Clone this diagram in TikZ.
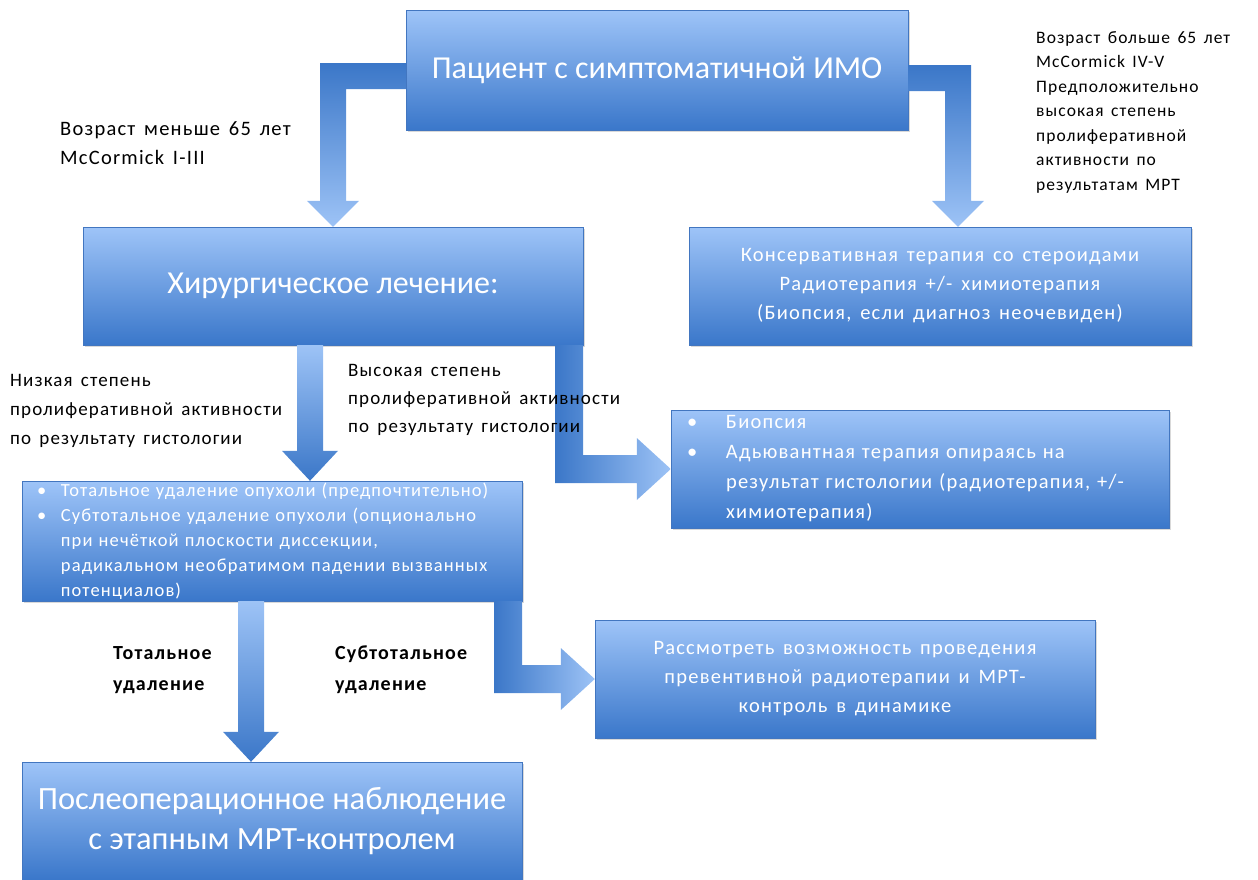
\documentclass[tikz,border=0pt]{standalone}
\usepackage{fontspec}
\setmainfont{Carlito}
\newfontfamily\widefont{Carlito}[LetterSpace=6,WordSpace=1.5]
\usetikzlibrary{calc,shadows}
\definecolor{boxtop}{HTML}{9EC4F8}
\definecolor{boxbottom}{HTML}{3A77CA}
\definecolor{boxline}{HTML}{4276C0}
\definecolor{arrowdark}{HTML}{3B77C8}
\definecolor{arrowlight}{HTML}{9DC3F6}
\newcommand{\listdot}[1][24pt]{\makebox[#1][l]{\textbullet}}
\tikzset{
    blue-box/.style = {draw=boxline, thin, rectangle, top color=boxtop, bottom color=boxbottom, text=white, drop shadow={opacity=0.3, shadow xshift=2pt, shadow yshift=-2pt}, minimum width=500pt, minimum height=118pt, inner sep=0pt},
    big-text/.style = {font=\fontsize{32}{38}\selectfont, align=center},
    mid-text/.style = {font=\widefont\fontsize{20.5}{29}\selectfont, align=center},
    list-text/.style = {align=left},
    side-label/.style = {font=\widefont\fontsize{20}{29}\selectfont, align=left, anchor=west, inner sep=0pt},
    dark-to-light/.style = {top color=arrowdark, bottom color=arrowlight},
    light-to-dark/.style = {top color=arrowlight, bottom color=arrowdark},
    left-to-right/.style = {left color=arrowdark, right color=arrowlight},
}
% fat arrows: start, tip, side (1 right, -1 left), shading
\newcommand{\benddown}[4]{\shade[#4] ($(#1)+(0,-13)$) -- ($(#1 -| #2)+({(#3)*13},-13)$) -- ($(#2)+({(#3)*13},-26)$) -- ($(#2)+({(#3)*26},-26)$) -- (#2) -- ($(#2)+({(#3)*(-26)},-26)$) -- ($(#2)+({(#3)*(-13)},-26)$) -- ($(#1 -| #2)+({(#3)*(-13)},13)$) -- ($(#1)+(0,13)$) -- cycle;}
\newcommand{\bendright}[3]{\shade[#3] ($(#1)+(-14,0)$) -- ($(#1 |- #2)+(-14,14)$) -- ($(#2)+(-34,14)$) -- ($(#2)+(-34,31)$) -- (#2) -- ($(#2)+(-34,-31)$) -- ($(#2)+(-34,-14)$) -- ($(#1 |- #2)+(14,-14)$) -- ($(#1)+(14,0)$) -- cycle;}
\newcommand{\straightdown}[3]{\shade[#3] ($(#1)+(-13,0)$) -- ($(#2)+(-13,-30)$) -- ($(#2)+(-28,-30)$) -- (#2) -- ($(#2)+(28,-30)$) -- ($(#2)+(13,-30)$) -- ($(#1)+(13,0)$) -- cycle;}

\begin{document}
\begin{tikzpicture}[x=1pt, y=-1pt]
\useasboundingbox (0,0) rectangle (1258,879);
\node[blue-box, big-text, minimum width=502pt, minimum height=120pt] (patient) at (657,70) {Пациент с симптоматичной ИМО};
\node[blue-box, big-text] (surgery) at (333,286) {Хирургическое лечение:};
\node[blue-box, mid-text, minimum width=502pt] (conserv) at (940,286) {Консервативная терапия со стероидами\\ Радиотерапия +/- химиотерапия\\ (Биопсия, если диагноз неочевиден)};
\node[blue-box, list-text, text width=466pt, font=\widefont\fontsize{20.5}{30}\selectfont, minimum width=498pt] (biopsy) at (920,469) {\listdot[39pt]Биопсия\\ \listdot[39pt]Адьювантная терапия опираясь на\\ \hspace*{39pt}результат гистологии (радиотерапия, +/-\\ \hspace*{39pt}химиотерапия)};
\node[blue-box, list-text, text width=470pt, font=\widefont\fontsize{18.5}{25}\selectfont, minimum height=120pt] (resect) at (272,541) {\listdot Тотальное удаление опухоли (предпочтительно)\\ \listdot Субтотальное удаление опухоли (опционально\\ \hspace*{24pt}при нечёткой плоскости диссекции,\\ \hspace*{24pt}радикальном необратимом падении вызванных\\ \hspace*{24pt}потенциалов)};
\node[blue-box, mid-text] (consider) at (845,679) {Рассмотреть возможность проведения\\ превентивной радиотерапии и МРТ-\\ контроль в динамике};
\node[blue-box, big-text, font=\fontsize{32.5}{40}\selectfont] (followup) at (272,821) {Послеоперационное наблюдение\\ с этапным МРТ-контролем};

\coordinate (young) at ($(patient.west)+(0,6)$);
\coordinate (old) at ($(patient.east)+(0,8)$);
\coordinate (old-tip) at ($(conserv.north)+(18,0)$);
\coordinate (low) at ($(surgery.south)+(-23,0)$);
\coordinate (high) at ($(surgery.south east)+(-14,0)$);
\coordinate (total) at ($(resect.south)+(-21,0)$);
\coordinate (subtotal) at ($(resect.south east)+(-14,0)$);
\benddown{young}{surgery.north}{-1}{dark-to-light}
\benddown{old}{old-tip}{1}{dark-to-light}
\straightdown{low}{low |- resect.north}{light-to-dark}
\bendright{high}{biopsy.west}{left-to-right}
\straightdown{total}{total |- followup.north}{light-to-dark}
\bendright{subtotal}{consider.west}{left-to-right}

\node[side-label, font=\widefont\fontsize{20.5}{29}\selectfont] (young-label) at (60,143) {Возраст меньше 65 лет\\ McCormick I-III};
\node[side-label, font=\widefont\fontsize{17.5}{24.5}\selectfont] (old-label) at (1036,112) {Возраст больше 65 лет\\ McCormick IV-V\\ Предположительно\\ высокая степень\\ пролиферативной\\ активности по\\ результатам МРТ};
\node[side-label, font=\widefont\fontsize{19}{29}\selectfont] (low-label) at (10,411) {Низкая степень\\ пролиферативной активности\\ по результату гистологии};
\node[side-label, font=\widefont\fontsize{19}{28}\selectfont] (high-label) at (348,400) {Высокая степень\\ пролиферативной активности\\ по результату гистологии};
\node[side-label, font=\widefont\bfseries\fontsize{20}{31}\selectfont] (total-label) at (113,670) {Тотальное\\ удаление};
\node[side-label, font=\widefont\bfseries\fontsize{20}{31}\selectfont] (subtotal-label) at (335,670) {Субтотальное\\ удаление};
\end{tikzpicture}
\end{document}
